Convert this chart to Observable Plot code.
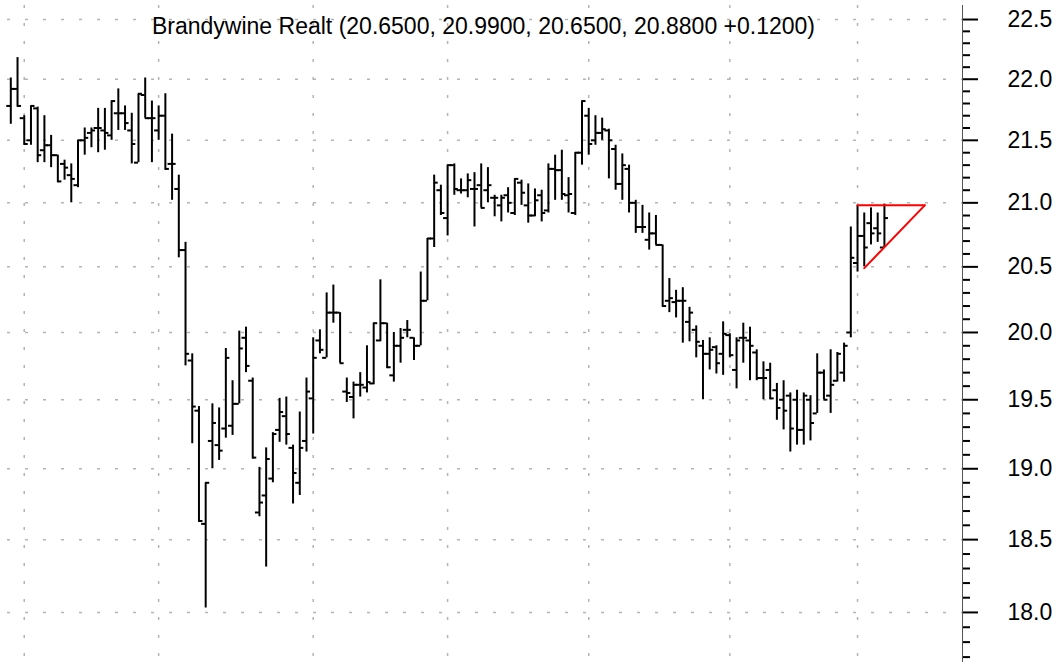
<!DOCTYPE html>
<html><head><meta charset="utf-8">
<script src="https://cdn.jsdelivr.net/npm/d3@7"></script>
<script src="https://cdn.jsdelivr.net/npm/@observablehq/plot@0.6"></script>
<style>
html,body{margin:0;padding:0;background:#fff;}
#chart svg{display:block;}
</style></head><body><div id="chart"></div>
<script>
const symbolName = "Brandywine Realt";
const open = [21.78,21.92,21.68,21.50,21.76,21.42,21.46,21.38,21.31,21.22,
21.14,21.50,21.56,21.60,21.58,21.54,21.72,21.72,21.58,21.32,
21.87,21.68,21.58,21.70,21.31,21.11,20.63,19.79,19.42,18.61,
19.20,19.17,19.29,19.31,19.47,19.96,19.64,18.69,18.81,18.93,
19.28,19.38,19.15,18.90,19.20,19.51,19.94,19.81,20.15,20.15,
19.56,19.52,19.61,19.59,19.62,19.94,20.07,19.68,19.90,20.02,
19.96,19.90,20.24,20.72,21.10,20.88,21.30,21.10,21.10,21.11,
21.14,21.10,21.04,20.98,21.06,20.92,21.16,20.98,20.90,21.06,
20.94,21.27,21.26,21.06,20.92,21.40,21.70,21.50,21.56,21.58,
21.43,21.15,21.27,21.00,20.81,20.71,20.76,20.67,20.24,20.23,
20.24,20.08,20.02,19.90,19.84,19.89,19.84,19.98,19.72,19.96,
19.94,19.85,19.66,19.72,19.57,19.50,19.53,19.50,19.28,19.50,
19.40,19.70,19.53,19.64,19.70,20.00,20.53,20.74,20.84,20.80,
20.65];
const high = [22.01,22.18,21.70,21.78,21.77,21.70,21.54,21.38,21.34,21.31,
21.50,21.60,21.60,21.76,21.76,21.82,21.92,21.78,21.72,21.88,
22.01,21.82,21.78,21.88,21.55,21.22,20.69,19.84,19.45,18.90,
19.47,19.44,19.88,19.64,20.01,20.04,19.66,19.01,19.15,19.26,
19.51,19.52,19.17,19.41,19.66,19.96,20.02,20.30,20.36,20.15,
19.66,19.63,19.70,19.90,20.07,20.40,20.07,20.00,20.03,20.09,
19.96,20.46,20.72,21.22,21.14,21.30,21.31,21.19,21.23,21.24,
21.31,21.28,21.06,21.06,21.12,21.19,21.18,21.15,21.11,21.10,
21.31,21.38,21.42,21.20,21.40,21.82,21.76,21.70,21.68,21.59,
21.46,21.39,21.30,21.02,20.98,20.92,20.90,20.67,20.41,20.32,
20.34,20.19,20.05,19.94,19.96,19.90,20.08,19.99,19.96,20.07,
20.04,19.87,19.78,19.77,19.62,19.64,19.55,19.57,19.55,19.53,
19.84,19.72,19.87,19.85,19.92,20.81,20.98,20.92,20.96,20.92,
20.99];
const low = [21.63,21.77,21.46,21.46,21.32,21.32,21.28,21.16,21.18,21.00,
21.12,21.38,21.44,21.40,21.42,21.50,21.58,21.58,21.31,21.32,
21.68,21.32,21.50,21.26,21.02,20.57,19.75,19.18,18.62,18.03,
19.00,19.06,19.22,19.24,19.47,19.70,19.07,18.66,18.31,18.90,
19.19,19.17,18.75,18.81,19.12,19.25,19.84,19.81,20.07,19.77,
19.48,19.36,19.52,19.55,19.61,19.93,19.73,19.63,19.77,19.96,
19.79,19.90,20.24,20.65,20.90,20.74,21.06,21.07,21.04,20.81,
20.96,21.00,20.89,20.85,20.92,20.90,20.98,20.84,20.89,20.85,
20.92,21.02,21.02,20.92,20.90,21.30,21.38,21.46,21.50,21.19,
21.10,21.02,20.92,20.76,20.76,20.63,20.67,20.19,20.15,20.11,
19.92,19.93,19.81,19.50,19.72,19.69,19.68,19.81,19.58,19.77,
19.64,19.64,19.50,19.50,19.35,19.28,19.12,19.17,19.17,19.20,
19.40,19.50,19.40,19.63,19.63,19.96,20.46,20.50,20.67,20.69,
20.65];
const close = [21.92,21.78,21.47,21.78,21.38,21.46,21.38,21.17,21.28,21.19,
21.50,21.52,21.58,21.60,21.56,21.82,21.72,21.64,21.47,21.88,
21.68,21.68,21.70,21.27,21.31,20.63,19.84,19.45,18.63,18.90,
19.33,19.13,19.81,19.47,19.88,19.75,19.08,18.76,19.07,19.25,
19.41,19.25,18.97,19.15,19.56,19.81,19.87,20.15,20.15,19.77,
19.55,19.61,19.61,19.63,20.07,20.07,19.74,19.90,19.96,20.02,
19.90,20.24,20.72,21.16,20.92,21.30,21.11,21.10,21.18,21.11,
20.96,21.14,21.04,21.04,21.00,21.19,21.08,20.90,21.02,20.92,
21.27,21.26,21.07,21.07,21.40,21.82,21.47,21.56,21.59,21.50,
21.15,21.30,21.00,20.81,20.81,20.76,20.67,20.20,20.26,20.24,
20.24,20.15,19.93,19.84,19.87,19.77,19.99,19.83,19.94,19.96,
19.90,19.66,19.66,19.51,19.44,19.42,19.29,19.28,19.53,19.33,
19.70,19.50,19.61,19.84,19.90,20.57,20.74,20.65,20.76,20.76,
20.88];
// bar index of first trading day of each month (vertical grid)
const monthStartIdx = [2, 22, 45, 65, 86, 107, 126];
const majorTicks = [18.0, 18.5, 19.0, 19.5, 20.0, 20.5, 21.0, 21.5, 22.0, 22.5];
const minorTicks = [17.7,17.8,17.9,18.1,18.2,18.3,18.4,18.6,18.7,18.8,18.9,19.1,19.2,19.3,19.4,
  19.6,19.7,19.8,19.9,20.1,20.2,20.3,20.4,20.6,20.7,20.8,20.9,21.1,21.2,21.3,21.4,
  21.6,21.7,21.8,21.9,22.1,22.2,22.3,22.4];
// triangle pattern lines (bar index, price)
const triTopIdx = [126, 136], triTopPrice = [20.98, 20.98];
const triLowIdx = [127, 136], triLowPrice = [20.49, 20.98];

const bars = open.map((o, i) => ({i, open: o, high: high[i], low: low[i], close: close[i]}));
const triTop = triTopIdx.map((x, k) => ({x, y: triTopPrice[k]}));
const triLow = triLowIdx.map((x, k) => ({x, y: triLowPrice[k]}));
const n = close.length;
const chg = close[n - 1] - close[n - 2];
const subtitle = `${symbolName} (${open[n-1].toFixed(4)}, ${high[n-1].toFixed(4)}, ${low[n-1].toFixed(4)}, ${close[n-1].toFixed(4)} ${chg >= 0 ? "+" : ""}${chg.toFixed(4)})`;

const W = 1061, H = 662, AX = 962;
const xDom = [-1.533, 141.62];
const grid = "#b4b4b4";
const chart = Plot.plot({
  width: W, height: H,
  marginLeft: 0, marginRight: W - AX, marginTop: 5, marginBottom: 0,
  x: {type: "linear", domain: xDom, axis: null},
  y: {type: "log", domain: [17.664, 22.619], axis: null, label: null},
  style: {fontFamily: "'Liberation Sans', Arial, Helvetica, sans-serif", background: "white", color: "black"},
  marks: [
    Plot.ruleY(majorTicks, {stroke: grid, strokeWidth: 1.5, strokeDasharray: "3,15", strokeDashoffset: -7}),
    Plot.ruleX(monthStartIdx, {stroke: grid, strokeWidth: 1.5, strokeDasharray: "3,15"}),
    Plot.ruleX([xDom[1]], {stroke: "#555", strokeWidth: 1}),
    Plot.axisY(minorTicks, {anchor: "right", tickSize: 7, stroke: "black", strokeWidth: 2, fill: "none", label: null}),
    Plot.axisY(majorTicks, {anchor: "right", tickSize: 15, tickPadding: 30, stroke: "black", strokeWidth: 2, fill: "black",
      tickFormat: d => d.toFixed(1), fontSize: 23, label: null}),
    Plot.text([subtitle], {frameAnchor: "top", dx: 2, dy: 21, lineAnchor: "middle", fontSize: 23, fill: "black"}),
    Plot.ruleX(bars, {x: "i", y1: "low", y2: "high", stroke: "black", strokeWidth: 2}),
    Plot.ruleY(bars, {x1: d => d.i - 0.6, x2: "i", y: "open", stroke: "black", strokeWidth: 2}),
    Plot.ruleY(bars, {x1: "i", x2: d => d.i + 0.6, y: "close", stroke: "black", strokeWidth: 2}),
    Plot.line(triTop, {x: "x", y: "y", stroke: "#ff0000", strokeWidth: 2}),
    Plot.line(triLow, {x: "x", y: "y", stroke: "#ff0000", strokeWidth: 2})
  ]
});
document.getElementById("chart").appendChild(chart);
</script>
</body></html>
